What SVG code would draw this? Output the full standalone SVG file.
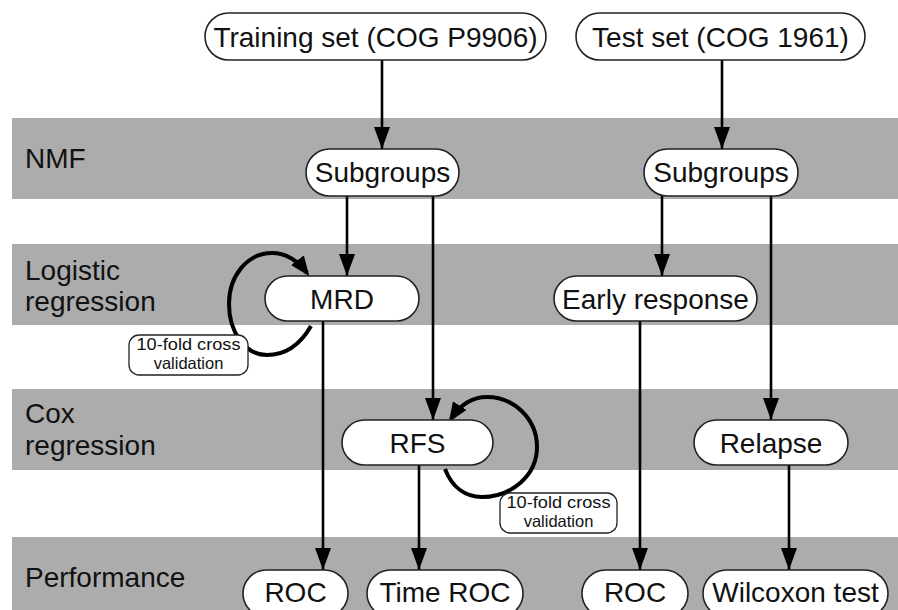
<svg xmlns="http://www.w3.org/2000/svg" width="898" height="610" viewBox="0 0 898 610">
<style>
.band{fill:#acacac}
.node rect{fill:#fff;stroke:#222;stroke-width:1.6}
.node text{font-family:"Liberation Sans",Arial,sans-serif;font-size:28px;fill:#111;text-anchor:middle}
.lab{font-family:"Liberation Sans",Arial,sans-serif;font-size:28px;fill:#111}
.edge{stroke:#000;stroke-width:2.6;fill:none;marker-end:url(#ah)}
.loop{stroke:#000;stroke-width:4;fill:none;marker-end:url(#ah2)}
.cv rect{fill:#fff;stroke:#222;stroke-width:1.3}
.cv text{font-family:"Liberation Sans",Arial,sans-serif;font-size:16.5px;fill:#111;text-anchor:middle}
</style>
<defs>
<marker id="ah" markerUnits="userSpaceOnUse" markerWidth="22" markerHeight="16" refX="22" refY="8" orient="auto"><path d="M0,0 L22,8 L0,16 z" fill="#000"/></marker>
<marker id="ah2" markerUnits="userSpaceOnUse" markerWidth="20" markerHeight="16" refX="16" refY="8" orient="auto"><path d="M0,0 L20,8 L0,16 z" fill="#000"/></marker>
</defs>
<rect width="898" height="610" fill="#fff"/>
<g id="bands">
<rect class="band" x="12" y="118" width="886" height="81"/>
<rect class="band" x="12" y="244" width="886" height="81"/>
<rect class="band" x="12" y="389" width="886" height="81"/>
<rect class="band" x="12" y="537" width="886" height="73"/>
<text class="lab" x="25" y="168">NMF</text>
<text class="lab" x="25" y="280">Logistic</text>
<text class="lab" x="25" y="311">regression</text>
<text class="lab" x="25" y="423">Cox</text>
<text class="lab" x="25" y="455">regression</text>
<text class="lab" x="25" y="587">Performance</text>
</g>
<g id="connectors">
<line class="edge" x1="382" y1="60" x2="382" y2="149"/>
<line class="edge" x1="722" y1="60" x2="722" y2="149"/>
<line class="edge" x1="347" y1="196" x2="347" y2="276"/>
<line class="edge" x1="433" y1="196" x2="433" y2="420"/>
<line class="edge" x1="662" y1="196" x2="662" y2="276"/>
<line class="edge" x1="771" y1="196" x2="771" y2="420"/>
<line class="edge" x1="323" y1="321" x2="323" y2="570"/>
<line class="edge" x1="419" y1="465" x2="419" y2="570"/>
<line class="edge" x1="640" y1="321" x2="640" y2="570"/>
<line class="edge" x1="789" y1="465" x2="789" y2="570"/>
<path class="loop" d="M311,326 C300,345 285,355 267,355 C245,355 229,332 229,304 C229,275 248,253 272,253 C287,253 298,261 307,273"/>
<path class="loop" d="M445,469 C452,487 465,497 482,497 C512,497 537,475 537,447 C537,419 514,397 487,397 C472,397 460,405 451,419"/>
</g>
<g id="train" class="node"><rect x="205" y="13" width="341" height="47" rx="23.5"/><text x="375.5" y="47">Training set (COG P9906)</text></g>
<g id="test" class="node"><rect x="576" y="13" width="289" height="47" rx="23.5"/><text x="720.5" y="47">Test set (COG 1961)</text></g>
<g id="subgroups1" class="node"><rect x="306" y="149" width="153" height="47" rx="23.5"/><text x="382.5" y="182">Subgroups</text></g>
<g id="subgroups2" class="node"><rect x="644" y="149" width="154" height="47" rx="23.5"/><text x="721" y="182">Subgroups</text></g>
<g id="mrd" class="node"><rect x="265" y="276" width="154" height="45" rx="22.5"/><text x="342" y="309">MRD</text></g>
<g id="early" class="node"><rect x="554" y="276" width="203" height="45" rx="22.5"/><text x="655.5" y="309">Early response</text></g>
<g id="rfs" class="node"><rect x="342" y="420" width="151" height="45" rx="22.5"/><text x="417.5" y="453">RFS</text></g>
<g id="relapse" class="node"><rect x="694" y="420" width="154" height="45" rx="22.5"/><text x="771" y="453">Relapse</text></g>
<g id="roc1" class="node"><rect x="243" y="570" width="105" height="47" rx="23.5"/><text x="295.5" y="602">ROC</text></g>
<g id="timeroc" class="node"><rect x="367" y="570" width="156" height="47" rx="23.5"/><text x="445" y="602">Time ROC</text></g>
<g id="roc2" class="node"><rect x="582" y="570" width="106" height="47" rx="23.5"/><text x="635" y="602">ROC</text></g>
<g id="wilcoxon" class="node"><rect x="703" y="570" width="185" height="47" rx="23.5"/><text x="795.5" y="602">Wilcoxon test</text></g>
<g id="cv1" class="cv"><rect x="129" y="335" width="119" height="40" rx="10"/><text x="188.5" y="350" textLength="104" lengthAdjust="spacingAndGlyphs">10-fold cross</text><text x="188.5" y="369">validation</text></g>
<g id="cv2" class="cv"><rect x="500" y="493" width="117" height="40" rx="10"/><text x="558.5" y="508" textLength="104" lengthAdjust="spacingAndGlyphs">10-fold cross</text><text x="558.5" y="527">validation</text></g>
</svg>
